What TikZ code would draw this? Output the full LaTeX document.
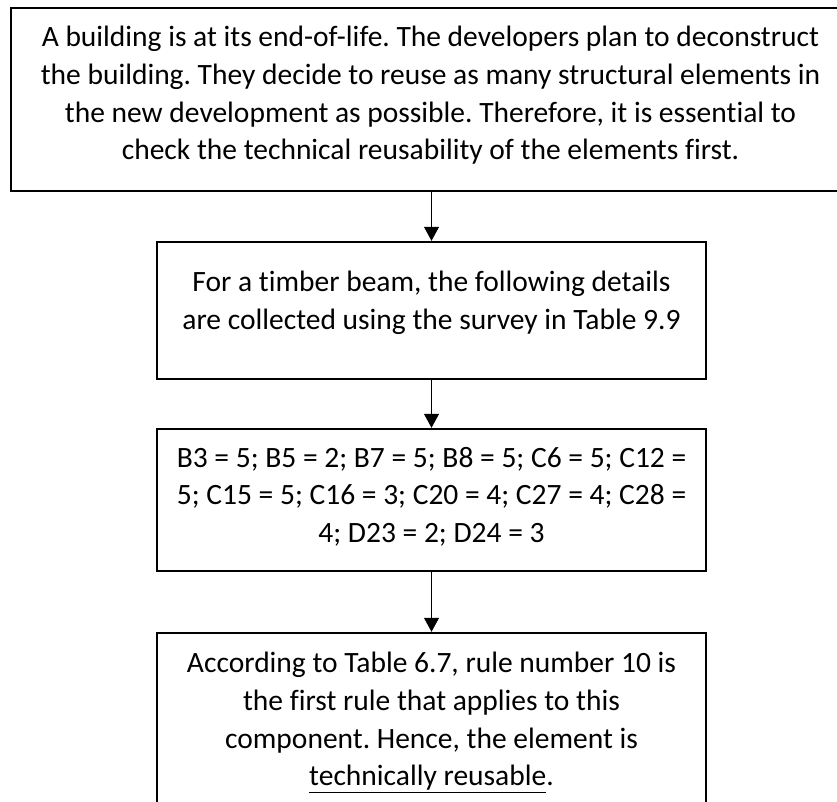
\documentclass[tikz,border=0pt]{standalone}
\usepackage{fontspec}
\setmainfont[Ligatures=NoCommon]{Carlito}
\frenchspacing
\usetikzlibrary{arrows.meta,positioning}

\begin{document}
\begin{tikzpicture}[x=1pt,y=-1pt,>={Triangle[width=15pt,length=14pt]},
  stepbox/.style={draw=black,line width=2.4pt,rectangle,minimum width=549pt,minimum height=137pt},
  steptext/.style={align=center,inner sep=0pt,font=\fontsize{29.5}{37.8}\selectfont},
  flow/.style={->,line width=1pt}]
 \useasboundingbox[fill=white] (0,0) rectangle (837,802);
 \clip (0,0) rectangle (837,802);
 % boxes
 \node[stepbox,minimum width=839pt,minimum height=183pt] (intro) at (430.5,99.5) {};
 \node[stepbox] (survey) at (431.5,310.5) {};
 \node[stepbox,minimum height=142pt] (scores) at (431.5,500) {};
 \node[stepbox,minimum height=197pt] (verdict) at (431.5,731.5) {};
 % texts
 \node[steptext,below=19pt of intro.north] (introtext) {A building is at its end-of-life. The developers plan to deconstruct\\
   the building. They decide to reuse as many structural elements in\\
   the new development as possible. Therefore, it is essential to\\
   check the technical reusability of the elements first.};
 \node[steptext,below=30pt of survey.north] (surveytext) {For a timber beam, the following details\\
   are collected using the survey in Table 9.9};
 \node[steptext,below=19pt of scores.north] (scorestext) {B3 = 5; B5 = 2; B7 = 5; B8 = 5; C6 = 5; C12 =\\
   5; C15 = 5; C16 = 3; C20 = 4; C27 = 4; C28 =\\
   4; D23 = 2; D24 = 3};
 \node[steptext,below=20pt of verdict.north] (verdicttext) {According to Table 6.7, rule number 10 is\\
   the first rule that applies to this\\
   component. Hence, the element is\\
   \underline{technically reusable}.};
 % arrows
 \draw[flow] (intro.south -| survey.north) -- (survey.north);
 \draw[flow] (survey) -- (scores);
 \draw[flow] (scores) -- (verdict);
\end{tikzpicture}
\end{document}
